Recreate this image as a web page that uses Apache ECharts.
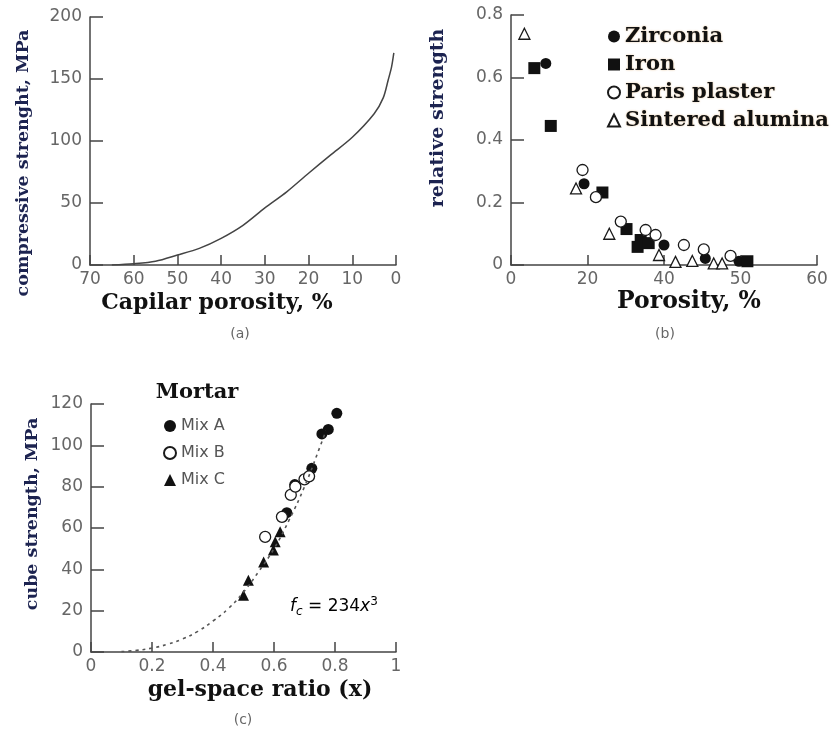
<!DOCTYPE html>
<html>
<head>
<meta charset="utf-8">
<script src="https://cdn.jsdelivr.net/npm/echarts@6/dist/echarts.min.js"></script>
<style>
html,body{margin:0;padding:0;background:#fff;}
#chart{width:839px;height:730px;}
</style>
</head>
<body>
<div id="chart"></div>
<script>
// panel (a): capillary porosity vs compressive strength
var capPorosity = [65, 60, 55, 50, 45, 40, 35, 30, 25, 20, 15, 10, 5, 2.9, 1.8, 1.0, 0.5];
var capStrength = [0, 1, 3, 8, 13.4, 21.5, 32, 46, 59, 74, 88.6, 103, 122, 135, 149, 160, 171];

// panel (b): porosity (as labelled on axis) vs relative strength
var bTicks = [0, 20, 40, 50, 60];
var zirconia = [[9.1, 0.645], [19.1, 0.26], [40, 0.064], [45.4, 0.021], [49.8, 0.012]];
var iron = [[6.1, 0.63], [10.4, 0.445], [23.9, 0.232], [30.2, 0.115], [33.1, 0.058], [33.9, 0.08], [36, 0.07], [50.9, 0.012]];
var parisPlaster = [[18.7, 0.304], [22.2, 0.217], [28.7, 0.139], [35.2, 0.112], [37.8, 0.096], [42.6, 0.064], [45.2, 0.05], [48.7, 0.029]];
var sinteredAlumina = [[3.5, 0.74], [17, 0.245], [25.7, 0.10], [38.7, 0.032], [41.5, 0.01], [43.7, 0.013], [46.5, 0.005], [47.6, 0.005]];

// panel (c): gel-space ratio vs cube strength
var mixA = [[0.806, 115.5], [0.778, 107.7], [0.757, 105.5], [0.724, 88.9], [0.668, 81], [0.642, 67.4], [0.629, 65.4]];
var mixB = [[0.571, 55.7], [0.626, 65.4], [0.655, 76], [0.67, 80], [0.7, 83.5], [0.715, 85]];
var mixC = [[0.5, 27.5], [0.516, 34.7], [0.566, 43.6], [0.598, 49.3], [0.604, 53.3], [0.62, 58.2]];
var fitX = [0.1, 0.15, 0.2, 0.25, 0.3, 0.35, 0.4, 0.45, 0.5, 0.55, 0.6, 0.65, 0.7, 0.75, 0.77];
var fitY = [0.2, 0.8, 1.9, 3.7, 6.3, 10, 15, 21, 29, 39, 50, 64, 80, 99, 107];

// the (b) axis labels are evenly spaced but not evenly valued
function toAxis(p) {
    for (var i = 1; i < bTicks.length; i++) {
        if (p <= bTicks[i]) {
            return (i - 1) + (p - bTicks[i - 1]) / (bTicks[i] - bTicks[i - 1]);
        }
    }
    return bTicks.length - 1;
}
function mapB(arr) {
    return arr.map(function (d) { return [toAxis(d[0]), d[1]]; });
}
function zip(a, b) {
    return a.map(function (v, i) { return [v, b[i]]; });
}

var dom = document.getElementById('chart');
var myChart = echarts.init(dom);

var SERIF = '"DejaVu Serif"';
var tickFont = { color: '#666', fontSize: 17, fontFamily: 'DejaVu Sans' };
var axisLineStyle = { show: true, onZero: false, lineStyle: { color: '#444', width: 1.5 } };

function serifText(x, y, txt, size, color, rot) {
    return {
        type: 'text', x: x, y: y, rotation: rot || 0,
        style: {
            text: txt, fill: color || '#111',
            font: 'bold ' + size + 'px ' + SERIF,
            textAlign: 'center', textVerticalAlign: 'middle',
            shadowColor: 'rgba(200,120,20,0.5)', shadowBlur: 3
        }
    };
}
function smallText(x, y, txt) {
    return {
        type: 'text', x: x, y: y,
        style: { text: txt, fill: '#666', font: '14px "DejaVu Sans"', textAlign: 'center', textVerticalAlign: 'middle' }
    };
}

function xAx(grid, min, max, interval, extra) {
    return Object.assign({
        type: 'value', gridIndex: grid, min: min, max: max, interval: interval,
        position: 'bottom',
        axisLine: axisLineStyle,
        axisTick: { show: true, inside: true, length: 10, lineStyle: { color: '#444', width: 1.5 } },
        axisLabel: Object.assign({ margin: 6 }, tickFont),
        splitLine: { show: false }
    }, extra || {});
}
function yAx(grid, min, max, interval) {
    return {
        type: 'value', gridIndex: grid, min: min, max: max, interval: interval,
        position: 'left',
        axisLine: axisLineStyle,
        axisTick: { show: true, inside: true, length: 13, lineStyle: { color: '#444', width: 1.5 } },
        axisLabel: Object.assign({ margin: 8 }, tickFont),
        splitLine: { show: false }
    };
}

var openStyle = { color: '#fff', borderColor: '#1a1a1a', borderWidth: 1.3, opacity: 1 };
var fillStyle = { color: '#111', opacity: 1 };

option = {
    backgroundColor: '#fff',
    animation: false,
    grid: [
        { left: 90, top: 17, width: 306, height: 248 },
        { left: 511, top: 15, width: 306, height: 250 },
        { left: 91, top: 404, width: 305, height: 248 }
    ],
    xAxis: [
        xAx(0, 0, 70, 10, { inverse: true }),
        xAx(1, 0, 4, 1, {
            axisLabel: Object.assign({ margin: 6, formatter: function (v) { return bTicks[Math.round(v)]; } }, tickFont)
        }),
        xAx(2, 0, 1, 0.2)
    ],
    yAxis: [
        yAx(0, 0, 200, 50),
        yAx(1, 0, 0.8, 0.2),
        yAx(2, 0, 120, 20)
    ],
    legend: [
        {
            orient: 'vertical', left: 602, top: 21, itemGap: 7,
            itemWidth: 12, itemHeight: 12,
            data: ['Zirconia', 'Iron', 'Paris plaster', 'Sintered alumina'],
            textStyle: {
                fontFamily: 'DejaVu Serif', fontWeight: 'bold', fontSize: 21, color: '#111',
                textShadowColor: 'rgba(200,120,20,0.45)', textShadowBlur: 2
            }
        },
        {
            orient: 'vertical', left: 158, top: 413, itemGap: 11,
            itemWidth: 12, itemHeight: 12,
            data: ['Mix A', 'Mix B', 'Mix C'],
            textStyle: { fontFamily: 'DejaVu Sans', fontSize: 16, color: '#555' }
        }
    ],
    series: [
        {
            name: 'capillary', type: 'line', xAxisIndex: 0, yAxisIndex: 0,
            data: zip(capPorosity, capStrength), smooth: 0.3, symbol: 'none',
            lineStyle: { color: '#444', width: 1.5 }
        },
        {
            name: 'Zirconia', type: 'scatter', xAxisIndex: 1, yAxisIndex: 1,
            data: mapB(zirconia), symbol: 'circle', symbolSize: 11, itemStyle: fillStyle
        },
        {
            name: 'Iron', type: 'scatter', xAxisIndex: 1, yAxisIndex: 1,
            data: mapB(iron), symbol: 'rect', symbolSize: 12, itemStyle: fillStyle
        },
        {
            name: 'Paris plaster', type: 'scatter', xAxisIndex: 1, yAxisIndex: 1,
            data: mapB(parisPlaster), symbol: 'circle', symbolSize: 11, itemStyle: openStyle
        },
        {
            name: 'Sintered alumina', type: 'scatter', xAxisIndex: 1, yAxisIndex: 1,
            data: mapB(sinteredAlumina), symbol: 'triangle', symbolSize: 11, itemStyle: openStyle
        },
        {
            name: 'fit', type: 'line', xAxisIndex: 2, yAxisIndex: 2,
            data: zip(fitX, fitY), smooth: true, symbol: 'none',
            lineStyle: { color: '#555', width: 1.6, type: [3, 4] }
        },
        {
            name: 'Mix A', type: 'scatter', xAxisIndex: 2, yAxisIndex: 2,
            data: mixA, symbol: 'circle', symbolSize: 11, itemStyle: fillStyle
        },
        {
            name: 'Mix B', type: 'scatter', xAxisIndex: 2, yAxisIndex: 2,
            data: mixB, symbol: 'circle', symbolSize: 11, itemStyle: openStyle
        },
        {
            name: 'Mix C', type: 'scatter', xAxisIndex: 2, yAxisIndex: 2,
            data: mixC, symbol: 'triangle', symbolSize: 11, itemStyle: fillStyle
        }
    ],
    graphic: [
        serifText(23, 163, 'compressive strenght, MPa', 17.5, '#1c2350', Math.PI / 2),
        serifText(217, 303, 'Capilar porosity, %', 22, '#111'),
        smallText(240, 334, '(a)'),
        serifText(438, 118, 'relative strength', 19, '#1c2350', Math.PI / 2),
        serifText(689, 302, 'Porosity, %', 23.5, '#111'),
        smallText(665, 334, '(b)'),
        serifText(32, 514, 'cube strength, MPa', 17.5, '#1c2350', Math.PI / 2),
        serifText(260, 690, 'gel-space ratio (x)', 22, '#111'),
        smallText(243, 720, '(c)'),
        serifText(197, 393, 'Mortar', 21, '#111'),
        {
            type: 'text', x: 290, y: 607,
            style: {
                text: '{i|f}{s|c}{n| = 234}{i|x}{p|3}',
                textVerticalAlign: 'middle',
                rich: {
                    i: { fontFamily: 'DejaVu Sans', fontStyle: 'italic', fontSize: 17, color: '#555', lineHeight: 22 },
                    n: { fontFamily: 'DejaVu Sans', fontSize: 17, color: '#555', lineHeight: 22 },
                    s: { fontFamily: 'DejaVu Sans', fontStyle: 'italic', fontSize: 12, color: '#555', verticalAlign: 'bottom', lineHeight: 22 },
                    p: { fontFamily: 'DejaVu Sans', fontSize: 12, color: '#555', verticalAlign: 'top', lineHeight: 22 }
                }
            }
        }
    ]
};

if (option && typeof option === 'object') {
    myChart.setOption(option, true);
}
</script>
</body>
</html>
